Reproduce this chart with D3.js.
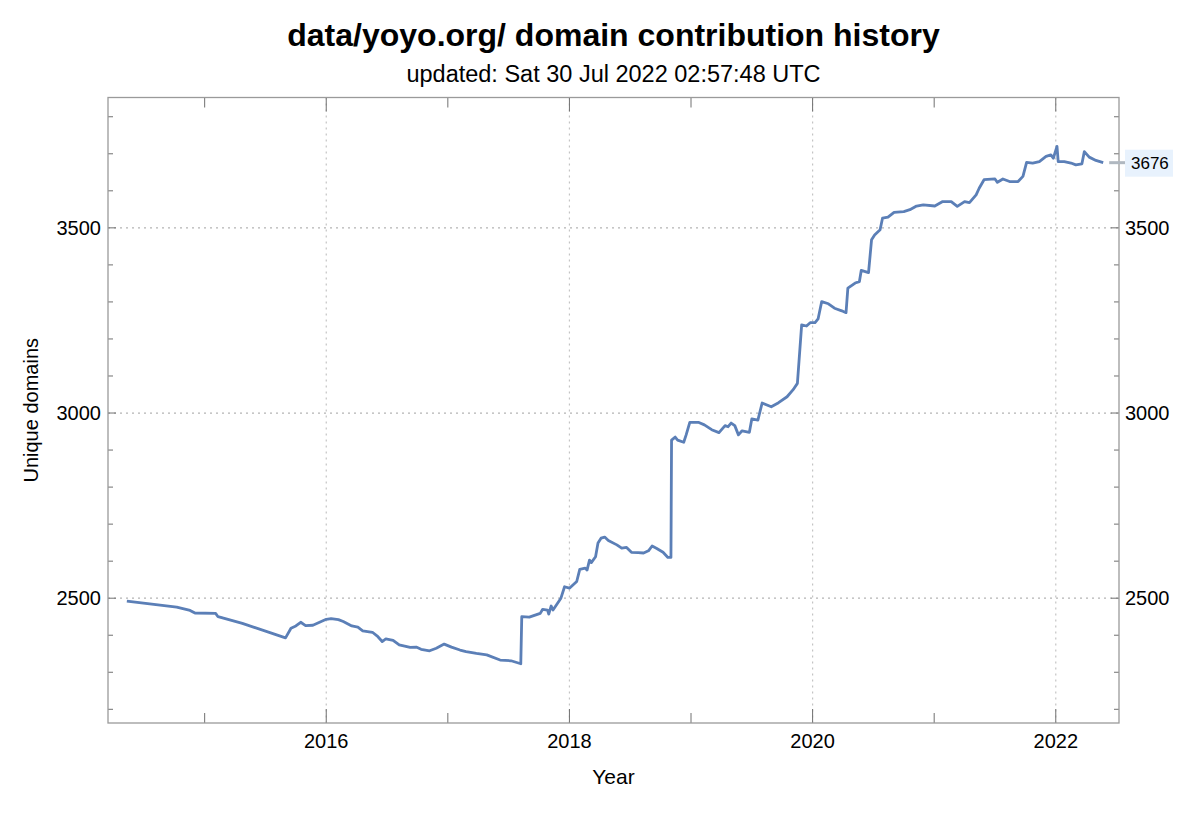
<!DOCTYPE html>
<html>
<head>
<meta charset="utf-8">
<script src="https://cdn.jsdelivr.net/npm/d3@7"></script>
<style>
  body { margin: 0; background: #fff; }
  svg { font-family: "Liberation Sans", Arial, sans-serif; }
</style>
</head>
<body>
<svg id="chart" width="1192" height="816"></svg>
<script>
// data (decimal year, unique domains)
let years = [2014.36,2014.77,2014.88,2014.92,2015.09,2015.11,2015.31,2015.665,2015.71,2015.75,2015.79,2015.83,2015.89,
  2016.00,2016.04,2016.10,2016.14,2016.21,2016.26,2016.30,2016.38,2016.425,2016.46,2016.49,2016.55,2016.60,2016.69,2016.74,
  2016.78,2016.85,2016.905,2016.97,2017.03,2017.10,2017.15,2017.235,2017.32,2017.43,2017.52,2017.60,2017.608,2017.67,2017.76,
  2017.78,2017.82,2017.83,2017.85,2017.865,2017.93,2017.96,2018.00,2018.06,2018.085,2018.13,2018.145,2018.165,2018.18,2018.215,
  2018.235,2018.26,2018.29,2018.32,2018.39,2018.43,2018.47,2018.51,2018.565,2018.61,2018.65,2018.68,2018.715,2018.77,2018.81,
  2018.835,2018.84,2018.87,2018.89,2018.94,2018.96,2018.99,2019.06,2019.11,2019.17,2019.23,2019.28,2019.305,2019.33,2019.36,
  2019.39,2019.42,2019.48,2019.50,2019.55,2019.585,2019.66,2019.72,2019.79,2019.84,2019.875,2019.91,2019.95,2019.98,2020.02,
  2020.045,2020.075,2020.13,2020.18,2020.24,2020.275,2020.29,2020.35,2020.385,2020.40,2020.46,2020.485,2020.51,2020.555,
  2020.575,2020.62,2020.67,2020.75,2020.80,2020.855,2020.91,2021.005,2021.07,2021.14,2021.19,2021.25,2021.29,2021.345,2021.37,
  2021.41,2021.50,2021.52,2021.565,2021.62,2021.69,2021.73,2021.76,2021.81,2021.865,2021.92,2021.96,2021.98,2022.01,2022.02,
  2022.07,2022.125,2022.165,2022.215,2022.235,2022.275,2022.33,2022.39];
let domains = [2492,2476,2467,2460,2459,2450,2432,2393,2419,2425,2435,2426,2427,
  2443,2445,2442,2437,2425,2422,2412,2408,2396,2383,2390,2386,2374,2367,2368,
  2362,2358,2365,2376,2368,2360,2356,2351,2347,2333,2331,2323,2450,2449,2459,
  2470,2468,2457,2479,2468,2500,2531,2527,2545,2578,2581,2576,2603,2596,2612,
  2649,2662,2665,2656,2644,2635,2637,2624,2623,2622,2628,2641,2635,2624,2610,
  2610,2927,2935,2927,2921,2941,2975,2975,2968,2955,2947,2966,2963,2973,2966,
  2941,2952,2948,2984,2981,3027,3017,3028,3044,3063,3080,3238,3235,3244,3244,
  3254,3301,3295,3283,3276,3271,3337,3351,3355,3385,3379,3468,3481,3495,
  3526,3529,3542,3544,3549,3559,3562,3559,3571,3571,3558,3571,3568,3589,3607,
  3630,3632,3623,3632,3625,3625,3639,3677,3675,3679,3693,3697,3688,3720,3679,
  3679,3675,3670,3673,3706,3691,3682,3676];

let xMajor = [2016, 2018, 2020, 2022];
let xMinor = [2015, 2017, 2019, 2021];
let yMajor = [2500, 3000, 3500];
let yMinor = d3.range(2200, 3900, 100).filter(v => v % 500 != 0);
let lastLabel = "3676";

let title = "data/yoyo.org/ domain contribution history";
let subtitle = "updated: Sat 30 Jul 2022 02:57:48 UTC";

let dat = years.map((y, i) => ({x: y, y: domains[i]}));

let L = 108, R = 1119, T = 97.5, B = 723;

let x = d3.scaleLinear().domain([2014.205, 2022.52]).range([L, R]);
let y = d3.scaleLinear().domain([2163, 3852]).range([B, T]);

let svg = d3.select("#chart");

// grid lines
svg.selectAll("line.gx")
  .data(xMajor)
  .enter()
  .append("line")
    .attr("x1", d => x(d)).attr("x2", d => x(d))
    .attr("y1", T).attr("y2", B)
    .attr("stroke", "#c4c4c4")
    .attr("stroke-width", 1.2)
    .attr("stroke-dasharray", "2,4")

svg.selectAll("line.gy")
  .data(yMajor)
  .enter()
  .append("line")
    .attr("x1", L).attr("x2", R)
    .attr("y1", d => y(d)).attr("y2", d => y(d))
    .attr("stroke", "#b4b4b4")
    .attr("stroke-width", 1.2)
    .attr("stroke-dasharray", "2,4")

// ticks, inward, on all four sides
let tickCol = "#707070";
function xticks(vals, len){
  [B, T].forEach((edge, k) => {
    svg.append("g").selectAll("line")
      .data(vals)
      .enter()
      .append("line")
        .attr("x1", d => x(d)).attr("x2", d => x(d))
        .attr("y1", edge).attr("y2", k == 0 ? edge - len : edge + len)
        .attr("stroke", tickCol).attr("stroke-width", 1)
  })
}
function yticks(vals, len){
  [L, R].forEach((edge, k) => {
    svg.append("g").selectAll("line")
      .data(vals)
      .enter()
      .append("line")
        .attr("y1", d => y(d)).attr("y2", d => y(d))
        .attr("x1", edge).attr("x2", k == 0 ? edge + len : edge - len)
        .attr("stroke", tickCol).attr("stroke-width", 1)
  })
}
xticks(xMajor, 14);
xticks(xMinor, 10);
yticks(yMajor, 8);
yticks(yMinor, 5);

// frame
svg.append("rect")
  .attr("x", L).attr("y", T)
  .attr("width", R - L).attr("height", B - T)
  .attr("fill", "none")
  .attr("stroke", "#9a9a9a")
  .attr("stroke-width", 1.3)

// tick labels
svg.selectAll("text.xl")
  .data(xMajor)
  .enter()
  .append("text")
    .attr("x", d => x(d))
    .attr("y", 748)
    .attr("text-anchor", "middle")
    .attr("font-size", 20)
    .text(d => d)

svg.selectAll("text.yl")
  .data(yMajor)
  .enter()
  .append("text")
    .attr("x", L - 7)
    .attr("y", d => y(d) + 7)
    .attr("text-anchor", "end")
    .attr("font-size", 20)
    .text(d => d)

svg.selectAll("text.yr")
  .data(yMajor)
  .enter()
  .append("text")
    .attr("x", R + 6)
    .attr("y", d => y(d) + 7)
    .attr("text-anchor", "start")
    .attr("font-size", 20)
    .text(d => d)

// the series
let line = d3.line().x(d => x(d.x)).y(d => y(d.y));
svg.append("path")
  .datum(dat)
  .attr("d", line)
  .attr("fill", "none")
  .attr("stroke", "#5b7fb7")
  .attr("stroke-width", 2.8)
  .attr("stroke-linejoin", "round")

// end callout
let last = dat[dat.length - 1];
svg.append("line")
  .attr("x1", x(last.x) + 6).attr("x2", R + 6)
  .attr("y1", y(last.y)).attr("y2", y(last.y))
  .attr("stroke", "#b0b8c0")
  .attr("stroke-width", 3)
svg.append("rect")
  .attr("x", R + 6).attr("y", y(last.y) - 13)
  .attr("width", 48).attr("height", 27)
  .attr("fill", "#e8f2fd")
svg.append("text")
  .attr("x", R + 12).attr("y", y(last.y) + 6)
  .attr("font-size", 17)
  .text(lastLabel)

// titles
svg.append("text")
  .attr("x", (L + R) / 2).attr("y", 46)
  .attr("text-anchor", "middle")
  .attr("font-size", 32)
  .attr("font-weight", "bold")
  .text(title)

svg.append("text")
  .attr("x", (L + R) / 2).attr("y", 82)
  .attr("text-anchor", "middle")
  .attr("font-size", 23.5)
  .text(subtitle)

svg.append("text")
  .attr("x", (L + R) / 2).attr("y", 784)
  .attr("text-anchor", "middle")
  .attr("font-size", 21)
  .text("Year")

svg.append("text")
  .attr("transform", "translate(38," + ((T + B) / 2) + ") rotate(-90)")
  .attr("text-anchor", "middle")
  .attr("font-size", 20)
  .text("Unique domains")
</script>
</body>
</html>
